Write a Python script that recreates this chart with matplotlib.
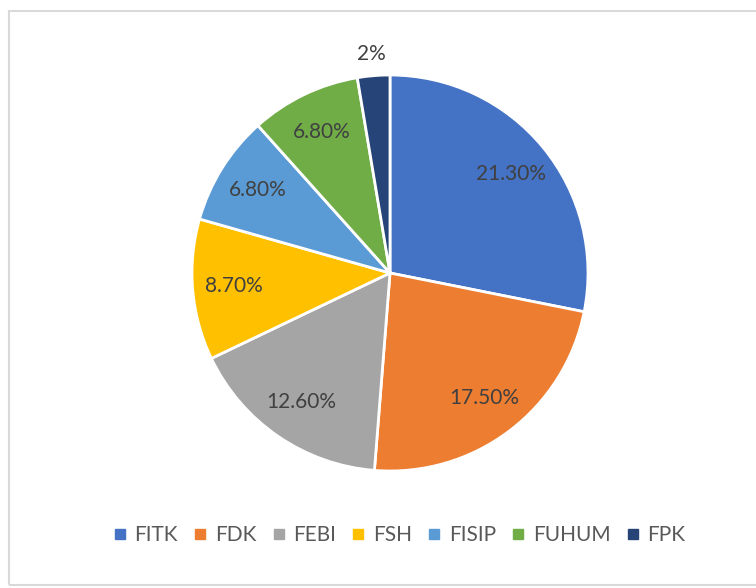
import numpy as np
import matplotlib.pyplot as plt
from matplotlib.patches import Rectangle
from matplotlib.lines import Line2D

plt.rcParams['font.family'] = ['Lato', 'DejaVu Sans']

categories = ["FITK", "FDK", "FEBI", "FSH", "FISIP", "FUHUM", "FPK"]
values = [21.3, 17.5, 12.6, 8.7, 6.8, 6.8, 2.0]
pct_labels = ["21.30%", "17.50%", "12.60%", "8.70%", "6.80%", "6.80%", "2%"]
colors = ["#4472C4", "#ED7D31", "#A5A5A5", "#FFC000", "#5B9BD5", "#70AD47", "#264478"]

W, H = 756, 588
fig = plt.figure(figsize=(W / 100, H / 100), dpi=100)

# chart frame
fig.patches.append(Rectangle((9 / W, 1 - 585 / H), 800 / W, 574 / H,
                             transform=fig.transFigure, fill=False,
                             edgecolor="#D9D9D9", linewidth=1.5))

cx, cy, r = 390, 273, 198
ax = fig.add_axes([(cx - r) / W, 1 - (cy + r) / H, 2 * r / W, 2 * r / H])
wedges, _ = ax.pie(values, colors=colors, startangle=90, counterclock=False,
                   wedgeprops=dict(edgecolor="white", linewidth=2))
ax.set_aspect("equal")
ax.set_xlim(-1, 1)
ax.set_ylim(-1, 1)

for i, w in enumerate(wedges):
    mid = np.deg2rad((w.theta1 + w.theta2) / 2)
    d = 1.11 if pct_labels[i] == "2%" else 0.79
    ax.text(d * np.cos(mid), d * np.sin(mid), pct_labels[i], ha="center", va="center",
            fontsize=15, color="#404040", clip_on=False)

handles = [Line2D([], [], marker="s", linestyle="none", markersize=6.5,
                  markerfacecolor=c, markeredgecolor=c) for c in colors]
fig.legend(handles, categories, loc="center", bbox_to_anchor=(398 / W, 1 - 535 / H),
           ncol=7, frameon=False, fontsize=15, labelcolor="#595959",
           handletextpad=0.25, columnspacing=0.62, handlelength=0.9)

fig.savefig("out.png", dpi=100)
